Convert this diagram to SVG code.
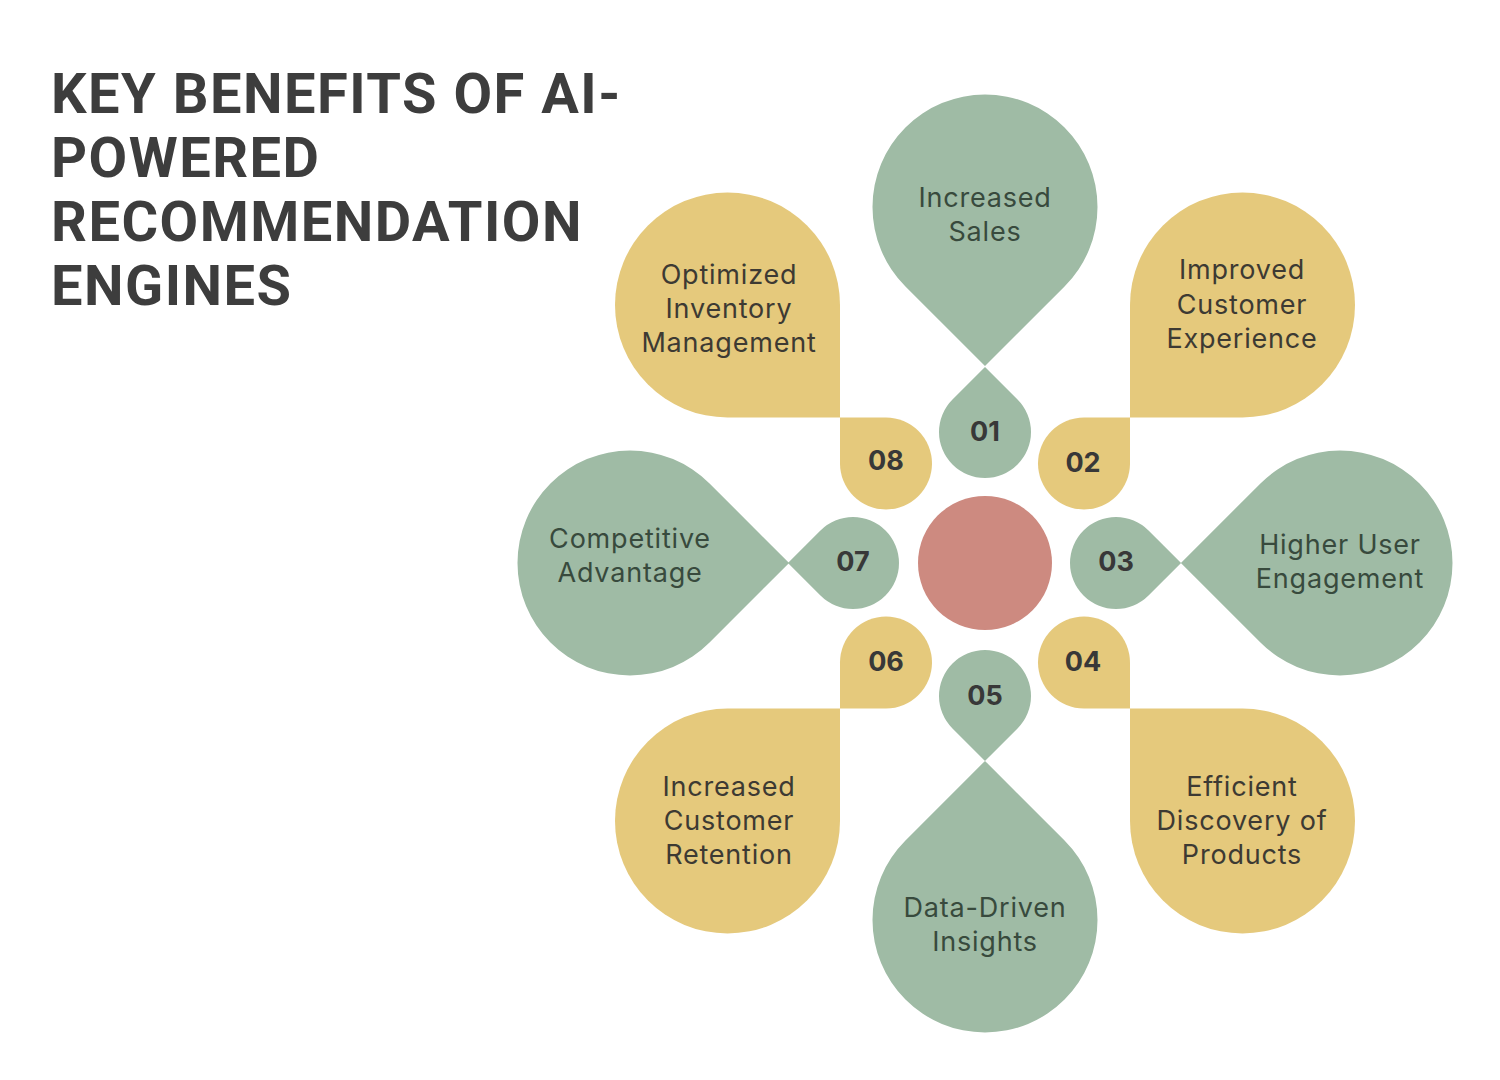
<svg xmlns="http://www.w3.org/2000/svg" xmlns:xlink="http://www.w3.org/1999/xlink" width="1500" height="1080" viewBox="0 0 1500 1080">
<style>
.title{font-family:Roboto,"Liberation Sans",sans-serif;font-weight:700;font-size:56px;letter-spacing:1.5px;fill:#3d3d3d}
.lbl{font-family:Inter,"Liberation Sans",sans-serif;font-size:27px;letter-spacing:0.8px;text-anchor:middle}
.lg{fill:#384a3d}
.ly{fill:#3d3a33}
.num{font-family:Inter,"Liberation Sans",sans-serif;font-weight:700;font-size:27px;fill:#383838;text-anchor:middle}
.g{fill:#9fbba5}
.y{fill:#e5c97c}
</style>
<defs>
<path id="gBig" d="M0,159.1 L-79.55,79.55 A112.5,112.5 0 1 1 79.55,79.55 Z"/>
<path id="gSmall" d="M0,65.05 L-32.53,32.53 A46,46 0 1 1 32.53,32.53 Z"/>
<path id="yBig" d="M0,112.5 A112.5,112.5 0 1 1 112.5,0 L112.5,112.5 Z"/>
<path id="ySmall" d="M0,46 A46,46 0 1 1 46,0 L46,46 Z"/>
</defs>
<rect width="1500" height="1080" fill="#ffffff"/>
<g id="title">
<text class="title" x="51" y="113">KEY BENEFITS OF AI-</text>
<text class="title" x="51" y="177">POWERED</text>
<text class="title" x="51" y="241">RECOMMENDATION</text>
<text class="title" x="51" y="305">ENGINES</text>
</g>
<g id="connectors"></g>
<g id="center"><circle cx="985" cy="563" r="67" fill="#cd8a80"/></g>
<g id="node01">
<use xlink:href="#gBig" class="g" transform="translate(985,207)"/>
<text class="lbl lg" x="985" y="207">Increased</text>
<text class="lbl lg" x="985" y="241">Sales</text>
<use xlink:href="#gSmall" class="g" transform="translate(985,432) rotate(180)"/>
<text class="num" x="985" y="441">01</text>
</g>
<g id="node02">
<use xlink:href="#yBig" class="y" transform="translate(1242.5,305) rotate(90)"/>
<text class="lbl ly" x="1242" y="279">Improved</text>
<text class="lbl ly" x="1242" y="314">Customer</text>
<text class="lbl ly" x="1242" y="348">Experience</text>
<use xlink:href="#ySmall" class="y" transform="translate(1084,463.5) rotate(-90)"/>
<text class="num" x="1083" y="472">02</text>
</g>
<g id="node03">
<use xlink:href="#gBig" class="g" transform="translate(1340,563) rotate(90)"/>
<text class="lbl lg" x="1340" y="554">Higher User</text>
<text class="lbl lg" x="1340" y="588">Engagement</text>
<use xlink:href="#gSmall" class="g" transform="translate(1116,563) rotate(-90)"/>
<text class="num" x="1116" y="571">03</text>
</g>
<g id="node04">
<use xlink:href="#yBig" class="y" transform="translate(1242.5,821) rotate(180)"/>
<text class="lbl ly" x="1242" y="796">Efficient</text>
<text class="lbl ly" x="1242" y="830">Discovery of</text>
<text class="lbl ly" x="1242" y="864">Products</text>
<use xlink:href="#ySmall" class="y" transform="translate(1084,662.5)"/>
<text class="num" x="1083" y="671">04</text>
</g>
<g id="node05">
<use xlink:href="#gBig" class="g" transform="translate(985,920) rotate(180)"/>
<text class="lbl lg" x="985" y="917">Data-Driven</text>
<text class="lbl lg" x="985" y="951">Insights</text>
<use xlink:href="#gSmall" class="g" transform="translate(985,696)"/>
<text class="num" x="985" y="705">05</text>
</g>
<g id="node06">
<use xlink:href="#yBig" class="y" transform="translate(727.5,821) rotate(-90)"/>
<text class="lbl ly" x="729" y="796">Increased</text>
<text class="lbl ly" x="729" y="830">Customer</text>
<text class="lbl ly" x="729" y="864">Retention</text>
<use xlink:href="#ySmall" class="y" transform="translate(886,662.5) rotate(90)"/>
<text class="num" x="886" y="671">06</text>
</g>
<g id="node07">
<use xlink:href="#gBig" class="g" transform="translate(630,563) rotate(-90)"/>
<text class="lbl lg" x="630" y="548">Competitive</text>
<text class="lbl lg" x="630" y="582">Advantage</text>
<use xlink:href="#gSmall" class="g" transform="translate(853,563) rotate(90)"/>
<text class="num" x="853" y="571">07</text>
</g>
<g id="node08">
<use xlink:href="#yBig" class="y" transform="translate(727.5,305)"/>
<text class="lbl ly" x="729" y="284">Optimized</text>
<text class="lbl ly" x="729" y="318">Inventory</text>
<text class="lbl ly" x="729" y="352">Management</text>
<use xlink:href="#ySmall" class="y" transform="translate(886,463.5) rotate(180)"/>
<text class="num" x="886" y="470">08</text>
</g>
</svg>
